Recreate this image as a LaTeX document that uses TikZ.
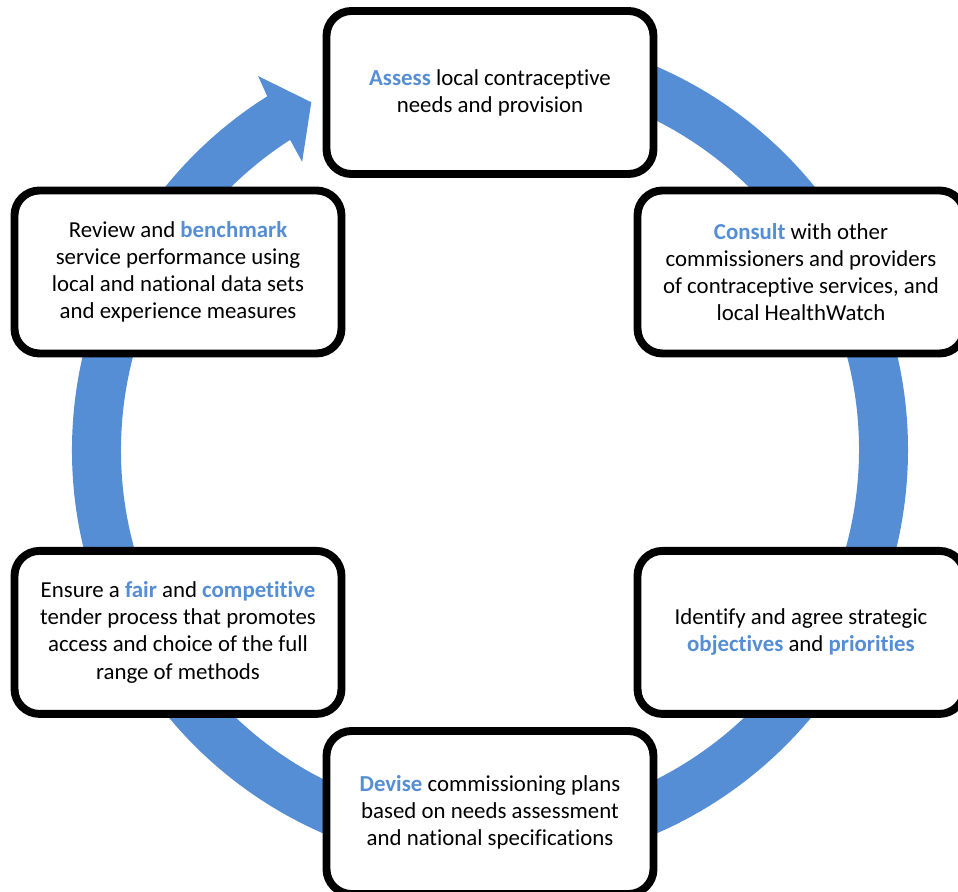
\documentclass[tikz,border=0pt]{standalone}
\usepackage{fontspec}
\setmainfont{Carlito}[Ligatures=NoCommon]
\usetikzlibrary{positioning}
\definecolor{cycleblue}{RGB}{85,142,213}
\newcommand{\keyword}[1]{\textbf{\textcolor{cycleblue}{#1}}}

\begin{document}
\begin{tikzpicture}
        % Define styles for nodes and the cycle
        \tikzstyle{stage} = [rectangle, rounded corners=0.5cm, minimum width=6.54cm, minimum height=3.26cm, text centered, align=center, draw=black, line width=4.5pt, fill=white, font=\fontsize{13}{15.4}\selectfont]
        \tikzstyle{ring} = [fill=cycleblue]

        \useasboundingbox (-9.8,-8.84) rectangle (9.36,9.0);
        \clip (-9.8,-8.84) rectangle (9.36,9.0);

        % Cycle arrow
        \fill [ring] (85:8.36) arc[start angle=85, end angle=-237.8, radius=8.36]
            -- (-238.2:8.8) -- (-242.8:7.82) -- (-236.9:6.88) -- (-237.2:7.38)
            arc[start angle=-237.2, end angle=85, radius=7.38] -- cycle;

        \node (assess) [stage] at (0,7.15) {\keyword{Assess} local contraceptive\\needs and provision};
        \node (consult) [stage] at (6.22,3.56) {\keyword{Consult} with other\\commissioners and providers\\of contraceptive services, and\\local HealthWatch};
        \node (review) [stage] at (-6.24,3.56) {Review and \keyword{benchmark}\\service performance using\\local and national data sets\\and experience measures};
        \node (identify) [stage, below=3.79cm of consult] {Identify and agree strategic\\\keyword{objectives} and \keyword{priorities}};
        \node (ensure) [stage, below=3.79cm of review] {Ensure a \keyword{fair} and \keyword{competitive}\\tender process that promotes\\access and choice of the full\\range of methods};
        \node (devise) [stage] at (0,-7.25) {\keyword{Devise} commissioning plans\\based on needs assessment\\and national specifications};
    \end{tikzpicture}
\end{document}
